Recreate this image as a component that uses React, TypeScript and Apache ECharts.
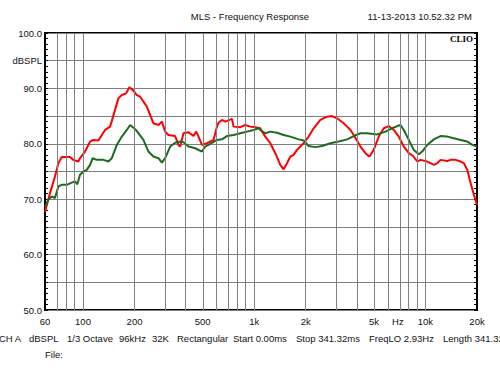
import React, { useEffect, useRef } from "react";
import * as echarts from "echarts";

// ---- data (frequency in Hz, level in dBSPL) ----
const redFreqs = [60, 64.2, 68.6, 71.8, 75.1, 84, 87.8, 93.9, 96.1, 102.8, 110, 115, 123, 134.6, 144, 149.9, 161, 168.6, 178.6, 186.7, 197, 206.3, 215.6, 236, 257.9, 275.9, 288.9, 302, 315.7, 345.4, 361.1, 369.5, 386.3, 413.2, 442, 458.3, 472.8, 495, 529.4, 578.6, 605.7, 619, 647.8, 677.3, 741.4, 757.5, 829, 886.6, 948.4, 1014.5, 1085, 1110, 1160.6, 1241.5, 1327.9, 1420.4, 1484.9, 1554.5, 1625, 1698.8, 1778.5, 1859.4, 1943.9, 2079.3, 2224.1, 2433.8, 2663.5, 2849.4, 3047.6, 3331, 3487.1, 3645.8, 3811.8, 4171.2, 4460.6, 4707.5, 4989.7, 5337.1, 5708.5, 6105.6, 6531, 6985.2, 7471.8, 7993.2, 8479.8, 8949.6, 9357.6, 10242, 11195, 11717, 12250, 13408, 14017, 14994, 16038, 16767, 17552, 18350, 19184, 20000];
const redLevels = [67.7, 71.1, 74.1, 76.5, 77.6, 77.6, 77.1, 76.8, 77.4, 78.6, 80.4, 80.7, 80.6, 82.5, 83.1, 84.9, 88.2, 88.8, 89.1, 90.2, 89.6, 88.8, 88.5, 86.7, 83.7, 83.4, 84.0, 82.2, 81.6, 81.4, 79.8, 79.5, 81.9, 82.1, 81.4, 82.2, 81.3, 79.8, 80.1, 80.7, 83.1, 83.8, 84.3, 84.0, 84.5, 83.1, 83.0, 83.4, 83.1, 83.0, 82.8, 82.2, 81.3, 80.1, 78.3, 76.2, 75.4, 76.5, 77.7, 78.0, 78.9, 79.5, 80.1, 81.3, 82.8, 84.3, 84.9, 85.0, 84.6, 83.7, 83.1, 82.5, 81.6, 79.5, 78.3, 77.7, 78.9, 81.3, 82.8, 83.2, 82.5, 81.3, 79.5, 78.3, 77.8, 76.8, 77.1, 76.8, 76.2, 76.5, 77.1, 76.9, 77.1, 77.1, 76.8, 76.5, 75.3, 72.9, 70.8, 69.0];

const greenFreqs = [60, 62.7, 65.7, 68.6, 71.8, 75.1, 80.4, 85.9, 89.9, 92.7, 96.1, 100.5, 105.2, 110, 114, 120.4, 131.6, 140.7, 147.3, 157.6, 168.6, 180.3, 188.5, 198.9, 206.3, 225.4, 241.1, 257.9, 275.9, 288.9, 302, 323, 345.4, 369.5, 386.3, 413.2, 452.2, 495, 517.5, 553.5, 605.7, 647.8, 693.1, 757.5, 829, 907.1, 991.5, 1060.6, 1085, 1160.6, 1241.5, 1358.8, 1484.9, 1625, 1817.5, 1943.9, 2079.3, 2275.4, 2490.1, 2785, 3114.3, 3487.1, 3811.8, 4171.2, 4564.4, 5223.8, 5840.6, 6392.4, 6835.8, 7147.2, 7471.8, 7993.2, 8548.2, 9144, 9573.6, 10242, 11195, 12250, 13408, 14654, 16038, 17552, 18774, 20000];
const greenLevels = [68.6, 69.9, 70.5, 70.2, 72.3, 72.6, 72.6, 73.0, 73.2, 72.7, 74.4, 75.0, 75.3, 76.2, 77.4, 77.1, 77.1, 76.8, 77.4, 79.8, 81.3, 82.5, 83.4, 82.8, 82.3, 80.7, 78.6, 77.7, 77.4, 76.6, 77.4, 79.5, 80.2, 80.4, 80.3, 79.5, 79.2, 78.6, 79.5, 80.0, 80.7, 80.8, 81.4, 81.6, 81.9, 82.2, 82.5, 82.8, 82.5, 81.9, 82.2, 82.0, 81.6, 81.3, 80.8, 80.6, 79.6, 79.4, 79.6, 80.1, 80.4, 80.8, 81.4, 81.9, 81.9, 81.7, 82.2, 82.8, 83.2, 83.4, 82.5, 80.7, 78.9, 78.1, 78.6, 79.8, 80.8, 81.4, 81.3, 81.0, 80.7, 80.4, 79.8, 79.5];

const gridFreqs = [70, 80, 90, 100, 200, 300, 400, 500, 600, 700, 800, 900, 1000, 2000, 3000, 4000, 5000, 6000, 7000, 8000, 9000, 10000];
const xLabelFreqs = [60, 100, 200, 500, 1000, 2000, 5000, 6900, 10000, 20000];
const xLabelTexts = ["60", "100", "200", "500", "1k", "2k", "5k", "Hz", "10k", "20k"];
const yMin = 50;
const yMax = 100;
const yUnit = "dBSPL";

const titleText = "MLS - Frequency Response";
const dateText = "11-13-2013 10.52.32 PM";
const infoTexts = ["CH A", "dBSPL", "1/3 Octave", "96kHz", "32K", "Rectangular", "Start 0.00ms", "Stop 341.32ms", "FreqLO 2.93Hz", "Length 341.32"];
const fileText = "File:";
const brandText = "CLIO";

const FONT = "'Liberation Sans', Arial, sans-serif";
const infoX = [-1, 29, 67, 119, 152, 177, 233, 296, 369, 443];

export default function App() {
  const ref = useRef<HTMLDivElement>(null);
  useEffect(() => {
    if (!ref.current) return;
    const chart = echarts.init(ref.current, undefined, { renderer: "svg" });
    const lg = (f: number) => Math.log10(f);
    const labelVals = xLabelFreqs.map(lg);
    const fmtX = (v: number) => {
      let best = 0;
      let bd = Infinity;
      labelVals.forEach((lv, i) => {
        const d = Math.abs(lv - v);
        if (d < bd) { bd = d; best = i; }
      });
      return xLabelTexts[best];
    };
    const yLabel = (v: number) => {
      if (Math.abs(v % 10) < 1e-6) return v.toFixed(1);
      if (Math.abs(v - 95) < 1e-6) return yUnit;
      return "";
    };
    const gray = "#808080";
    const option: any = {
      animation: false,
      backgroundColor: "#ffffff",
      textStyle: { fontFamily: FONT },
      title: [
        { text: titleText, left: "center", top: 6, textStyle: { fontSize: 9.5, fontWeight: "normal", color: "#111", fontFamily: FONT } },
        { text: dateText, right: 23, top: 6, textStyle: { fontSize: 9.5, fontWeight: "normal", color: "#111", fontFamily: FONT } },
      ],
      grid: { left: 45, right: 23, top: 33, bottom: 65, show: true, borderColor: "#000", borderWidth: 2, backgroundColor: "#fff", containLabel: false },
      xAxis: {
        type: "value",
        min: lg(60),
        max: lg(20000),
        axisLine: { show: false },
        axisTick: { show: false },
        splitLine: { show: false },
        axisLabel: {
          customValues: labelVals,
          formatter: fmtX,
          fontSize: 9.5,
          color: "#111",
          margin: 6,
          fontFamily: FONT,
        },
      },
      yAxis: [
        {
          type: "value",
          min: yMin,
          max: yMax,
          interval: 5,
          axisLine: { show: true, lineStyle: { color: "#000", width: 2 } },
          axisTick: { show: true, inside: true, length: 3, lineStyle: { color: "#000" } },
          minorTick: { show: true, splitNumber: 5, length: 3, lineStyle: { color: "#000" } },
          splitLine: { show: true, lineStyle: { color: gray, width: 1 } },
          axisLabel: { formatter: yLabel, fontSize: 9.5, color: "#111", margin: 3, fontFamily: FONT, showMinLabel: true, showMaxLabel: true },
        },
        {
          type: "value",
          position: "right",
          min: yMin,
          max: yMax,
          interval: 5,
          axisLine: { show: true, lineStyle: { color: "#000", width: 2 } },
          axisTick: { show: true, inside: true, length: 3, lineStyle: { color: "#000" } },
          minorTick: { show: true, splitNumber: 5, length: 3, lineStyle: { color: "#000" } },
          splitLine: { show: false },
          axisLabel: { show: false },
        },
      ],
      series: [
        {
          type: "line",
          data: [],
          z: 1,
          silent: true,
          markLine: {
            silent: true,
            symbol: ["none", "none"],
            label: { show: false },
            emphasis: { disabled: true },
            lineStyle: { color: gray, width: 1, type: "solid" },
            data: gridFreqs.map((f) => ({ xAxis: lg(f) })),
          },
        },
        {
          type: "line",
          name: "red",
          z: 3,
          symbol: "none",
          lineStyle: { color: "#ff0000", width: 2 },
          itemStyle: { color: "#ff0000" },
          data: redFreqs.map((f, i) => [lg(f), redLevels[i]]),
        },
        {
          type: "line",
          name: "green",
          z: 4,
          symbol: "none",
          lineStyle: { color: "#1d6b1d", width: 2 },
          itemStyle: { color: "#1d6b1d" },
          data: greenFreqs.map((f, i) => [lg(f), greenLevels[i]]),
        },
      ],
      graphic: [
        { type: "text", right: 27, top: 34, z: 10, style: { text: brandText, font: "bold 9px 'Liberation Serif', 'Times New Roman', serif", fill: "#000" } },
        ...infoTexts.map((t, i) => ({ type: "text", left: infoX[i], top: 333, style: { text: t, font: `9.5px ${FONT}`, fill: "#111" } })),
        { type: "text", left: 45, top: 349, style: { text: fileText, font: `9.5px ${FONT}`, fill: "#111" } },
      ],
    };
    chart.setOption(option);
    return () => chart.dispose();
  }, []);
  return <div ref={ref} style={{ position: "fixed", left: 0, top: 0, width: 500, height: 375, background: "#fff" }} />;
}
